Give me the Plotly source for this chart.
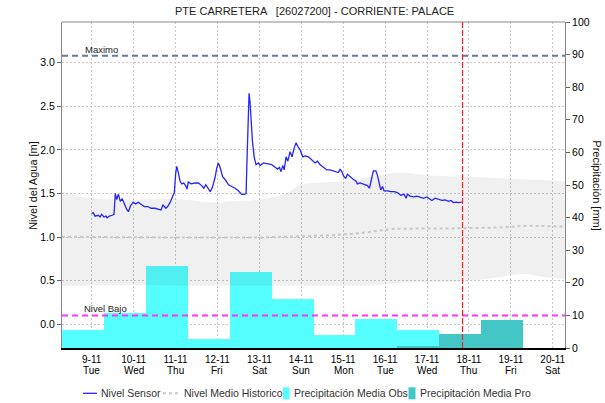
import pandas as pd
import plotly.graph_objects as go

# ---- data -------------------------------------------------------------
start = pd.Timestamp("2021-11-09 00:00")
now_time = pd.Timestamp("2021-11-17 20:20")

day_ticks = pd.date_range("2021-11-09", "2021-11-20", freq="D")
day_text = ["9-11", "10-11", "11-11", "12-11", "13-11", "14-11",
            "15-11", "16-11", "17-11", "18-11", "19-11", "20-11"]
weekday_text = ["Tue", "Wed", "Thu", "Fri", "Sat", "Sun",
                "Mon", "Tue", "Wed", "Thu", "Fri", "Sat"]

# sensor water level [m], hours after 9-11 00:00
sensor_h = [0, 0.9, 1.9, 3.8, 4.8, 5.7, 7.0, 8.2, 8.9, 10.1, 11.8, 12.8, 13.5, 14.3,
            15.3, 16.4, 17.5, 18.7, 20.0, 21.0, 22.3, 23.8, 25.2, 26.7, 28.6, 30.1,
            32.1, 34.0, 36.3, 38.2, 39.7, 40.8, 42.4, 43.5, 45.0, 46.2, 47.3, 48.1,
            48.7, 49.6, 50.6, 51.6, 52.7, 53.8, 54.6, 55.3, 56.9, 59.2, 61.1, 63.0,
            64.2, 65.3, 66.8, 67.9, 69.1, 70.6, 71.6, 72.5, 73.5, 75.0, 76.4, 78.3,
            80.2, 82.1, 84.0, 85.9, 87.4, 88.4, 88.8, 89.5, 90.1, 90.7, 91.2, 92.0,
            93.0, 94.1, 95.4, 96.4, 98.3, 101.2, 103.1, 105.0, 106.5, 107.5, 108.4,
            109.4, 110.2, 111.3, 112.3, 113.6, 114.7, 115.9, 117.0, 118.0, 119.3,
            120.9, 122.2, 124.1, 126.0, 127.9, 129.2, 130.8, 132.7, 134.6, 136.5,
            139.4, 141.3, 142.2, 143.2, 144.5, 145.5, 146.4, 148.0, 149.9, 151.4,
            152.1, 153.7, 155.2, 156.5, 157.9, 159.0, 159.4, 160.4, 161.3, 162.7,
            163.6, 164.6, 165.5, 166.5, 167.4, 169.3, 171.3, 173.2, 175.0, 177.0,
            178.9, 180.0, 180.8, 182.3, 184.2, 186.2, 188.1, 190.0, 191.9, 193.8,
            194.8, 196.6, 198.5, 200.5, 202.4, 204.3, 205.6, 207.1, 208.7, 210.0,
            211.9]
sensor_m = [1.27, 1.28, 1.24, 1.25, 1.23, 1.26, 1.23, 1.24, 1.22, 1.24, 1.25, 1.26, 1.50, 1.43,
            1.49, 1.41, 1.44, 1.37, 1.32, 1.29, 1.36, 1.40, 1.38, 1.40, 1.37, 1.35,
            1.35, 1.33, 1.33, 1.32, 1.31, 1.37, 1.33, 1.35, 1.40, 1.46, 1.51, 1.73,
            1.81, 1.74, 1.64, 1.61, 1.62, 1.59, 1.55, 1.63, 1.61, 1.62, 1.62, 1.59,
            1.56, 1.60, 1.55, 1.52, 1.57, 1.68, 1.79, 1.85, 1.80, 1.69, 1.66, 1.60,
            1.58, 1.56, 1.53, 1.49, 1.49, 1.50, 1.79, 2.34, 2.65, 2.54, 2.34, 2.11,
            1.92, 1.83, 1.85, 1.82, 1.85, 1.84, 1.83, 1.80, 1.78, 1.80, 1.75,
            1.82, 1.77, 1.92, 1.87, 1.98, 1.92, 2.02, 2.08, 2.04, 2.00,
            1.92, 1.93, 1.92, 1.89, 1.85, 1.87, 1.83, 1.80, 1.77, 1.77,
            1.75, 1.74, 1.78, 1.75, 1.69, 1.675, 1.72, 1.69, 1.66, 1.64,
            1.61, 1.62, 1.61, 1.60, 1.59, 1.56, 1.60, 1.71, 1.76, 1.76,
            1.71, 1.62, 1.54, 1.58, 1.53, 1.53, 1.52, 1.52, 1.51, 1.48,
            1.49, 1.445, 1.49, 1.47, 1.46, 1.47, 1.46, 1.445, 1.46, 1.43,
            1.42, 1.445, 1.43, 1.42, 1.425, 1.41, 1.42, 1.395, 1.40, 1.395,
            1.40]

# historic envelope and median level [m]
hist_upper_h = [-17, 0, 23.7, 47.7, 71.8, 79, 96, 108, 113, 120, 144, 168, 176.6, 192, 216, 240, 264, 271]
hist_upper_m = [1.52, 1.445, 1.43, 1.435, 1.395, 1.41, 1.43, 1.48, 1.52, 1.60, 1.64, 1.72, 1.74, 1.71, 1.69, 1.67, 1.65, 1.64]
hist_lower_h = [-17, 0, 48, 96, 144, 165, 173, 211, 230, 247, 258, 271]
hist_lower_m = [0.44, 0.445, 0.445, 0.445, 0.445, 0.45, 0.47, 0.49, 0.53, 0.575, 0.545, 0.52]
hist_mid_h = [-17, 0, 48, 96.5, 136.5, 154, 167, 173, 211, 234, 249, 271]
hist_mid_m = [1.005, 1.0, 0.995, 0.995, 1.02, 1.045, 1.08, 1.095, 1.10, 1.11, 1.13, 1.12]

# daily precipitation [mm], day window starting 07:00
obs_start = pd.date_range("2021-11-08 07:00", periods=9, freq="D")
obs_mm = [5.5, 10.7, 25.1, 2.8, 23.2, 14.9, 3.9, 9.0, 5.4]
pro_start = pd.date_range("2021-11-16 07:00", periods=3, freq="D")
pro_mm = [0.6, 4.3, 8.7]

level_max = 3.08
level_low = 0.1

# ---- figure -----------------------------------------------------------
def hours(h):
    return [start + pd.Timedelta(hours=v) for v in h]

day_ms = 24 * 3600 * 1000
half = pd.Timedelta(hours=12)

SENSOR_C = "#2424ff"
MEDIAN_C = "#c8c8c8"
OBS_C = "#55ffff"
PRO_C = "#44c6c6"

fig = go.Figure()

fig.add_trace(go.Bar(
    x=[s + half for s in obs_start], y=obs_mm, width=[day_ms] * len(obs_mm),
    name="Precipitación Media Obs", marker=dict(color=OBS_C, line=dict(width=0)),
    yaxis="y2"))
fig.add_trace(go.Bar(
    x=[s + half for s in pro_start], y=pro_mm, width=[day_ms] * len(pro_mm),
    name="Precipitación Media Pro", marker=dict(color=PRO_C, line=dict(width=0)),
    yaxis="y2"))

fig.add_trace(go.Scatter(
    x=hours(hist_upper_h), y=hist_upper_m, mode="lines", line=dict(width=0, shape="spline"),
    hoverinfo="skip", yaxis="y"))
fig.add_trace(go.Scatter(
    x=hours(hist_lower_h), y=hist_lower_m, mode="lines", line=dict(width=0, shape="spline"),
    fill="tonexty", fillcolor="rgba(0,0,0,0.06)", hoverinfo="skip", yaxis="y"))
fig.add_trace(go.Scatter(
    x=hours(hist_mid_h), y=hist_mid_m, mode="lines", name="Nivel Medio Historico",
    line=dict(color=MEDIAN_C, width=2, dash="3px,3px"), yaxis="y"))
fig.add_trace(go.Scatter(
    x=hours(sensor_h), y=sensor_m, mode="lines", name="Nivel Sensor",
    line=dict(color=SENSOR_C, width=1.3), yaxis="y"))

font = "Liberation Sans, Arial, sans-serif"
grid = dict(gridcolor="#c8c8c8", griddash="2px,2px", gridwidth=1)

fig.update_layout(
    width=605, height=403,
    margin=dict(l=62, r=40, t=22, b=55, autoexpand=False),
    paper_bgcolor="white", plot_bgcolor="white",
    font=dict(family=font, size=10, color="#000"),
    title=dict(text="PTE CARRETERA   [26027200] - CORRIENTE: PALACE", x=0.52, xanchor="center",
               y=0.972, yanchor="middle", font=dict(size=11, color="#222")),
    barmode="overlay", bargap=0,
    showlegend=False,
    xaxis=dict(type="date", range=[pd.Timestamp("2021-11-08 07:00"), pd.Timestamp("2021-11-20 07:00")],
               tickvals=list(day_ticks), ticktext=day_text, ticks="", showgrid=True, **grid,
               showline=True, linecolor="#000", linewidth=2, zeroline=False, anchor="y2",
               tickfont=dict(size=10), ticklabelstandoff=1, automargin=False),
    yaxis2=dict(range=[0, 100], dtick=10, side="right", showgrid=False, zeroline=False,
                showline=True, linecolor="#888", ticks="outside", ticklen=4, tickcolor="#666",
                anchor="x", tickfont=dict(size=10.5), automargin=False),
    yaxis=dict(range=[-0.273, 3.467], dtick=0.5, tickformat=".1f", side="left", overlaying="y2",
               showgrid=True, **grid, zeroline=False, showline=True, linecolor="#888",
               ticks="outside", ticklen=4, tickcolor="#666", tickfont=dict(size=10.5),
               automargin=False),
)

# weekday names under the date labels
for d, wd in zip(day_ticks, weekday_text):
    fig.add_annotation(text=wd, xref="x", yref="paper", x=d, y=-0.0705, yanchor="middle",
                       showarrow=False, font=dict(size=10, color="#000"))

# top frame line
fig.add_shape(type="line", xref="paper", yref="paper", x0=0, x1=1, y0=1, y1=1,
              line=dict(color="#888", width=1), layer="above")
# reference levels
fig.add_shape(type="line", xref="paper", yref="y", x0=0, x1=1, y0=level_max, y1=level_max,
              line=dict(color="#6878a0", width=2, dash="6px,4px"), layer="above")
fig.add_shape(type="line", xref="paper", yref="y", x0=0, x1=1, y0=level_low, y1=level_low,
              line=dict(color="#ff33ff", width=2, dash="6px,4px"), layer="above")
# current time marker
fig.add_shape(type="line", xref="x", yref="paper", x0=now_time, x1=now_time, y0=0, y1=1,
              line=dict(color="#ff2020", width=1.2, dash="6px,2px"), layer="above")

fig.add_annotation(text="Maximo", xref="paper", yref="y", x=0.042, y=level_max, xanchor="left",
                   yanchor="bottom", showarrow=False, font=dict(size=9.5, color="#222"), yshift=-1)
fig.add_annotation(text="Nivel Bajo", xref="paper", yref="y", x=0.04, y=level_low, xanchor="left",
                   yanchor="bottom", showarrow=False, font=dict(size=9.5, color="#222"), yshift=-1)
fig.add_annotation(text="Nivel del Agua [m]", xref="paper", yref="paper", x=-0.058, y=0.5,
                   xanchor="center", yanchor="middle",
                   textangle=-90, showarrow=False, font=dict(size=11, color="#111"))
fig.add_annotation(text="Precipitación [mm]", xref="paper", yref="paper", x=1.063, y=0.5,
                   xanchor="center", yanchor="middle",
                   textangle=90, showarrow=False, font=dict(size=11, color="#111"))

# legend row below the axis (paper coordinates)
LEG_Y = -0.139
def px(x):
    return (x - 62) / 503

fig.add_shape(type="line", xref="paper", yref="paper", x0=px(83), x1=px(97), y0=LEG_Y, y1=LEG_Y,
              line=dict(color=SENSOR_C, width=1.3))
fig.add_shape(type="line", xref="paper", yref="paper", x0=px(163), x1=px(179), y0=LEG_Y, y1=LEG_Y,
              line=dict(color=MEDIAN_C, width=2, dash="3px,3px"))
box_h = 6 / 326
fig.add_shape(type="rect", xref="paper", yref="paper", x0=px(283), x1=px(289.5),
              y0=LEG_Y - box_h, y1=LEG_Y + box_h, line=dict(width=0), fillcolor=OBS_C)
fig.add_shape(type="rect", xref="paper", yref="paper", x0=px(408.5), x1=px(415.5),
              y0=LEG_Y - box_h, y1=LEG_Y + box_h, line=dict(width=0), fillcolor=PRO_C)
for x, label in [(99, "Nivel Sensor"), (181.5, "Nivel Medio Historico"),
                 (291.5, "Precipitación Media Obs"), (417.5, "Precipitación Media Pro")]:
    fig.add_annotation(text=label, xref="paper", yref="paper", x=px(x), y=LEG_Y,
                       xanchor="left", yanchor="middle", showarrow=False,
                       font=dict(size=10.5, color="#333"))

fig.write_html("out.html")
